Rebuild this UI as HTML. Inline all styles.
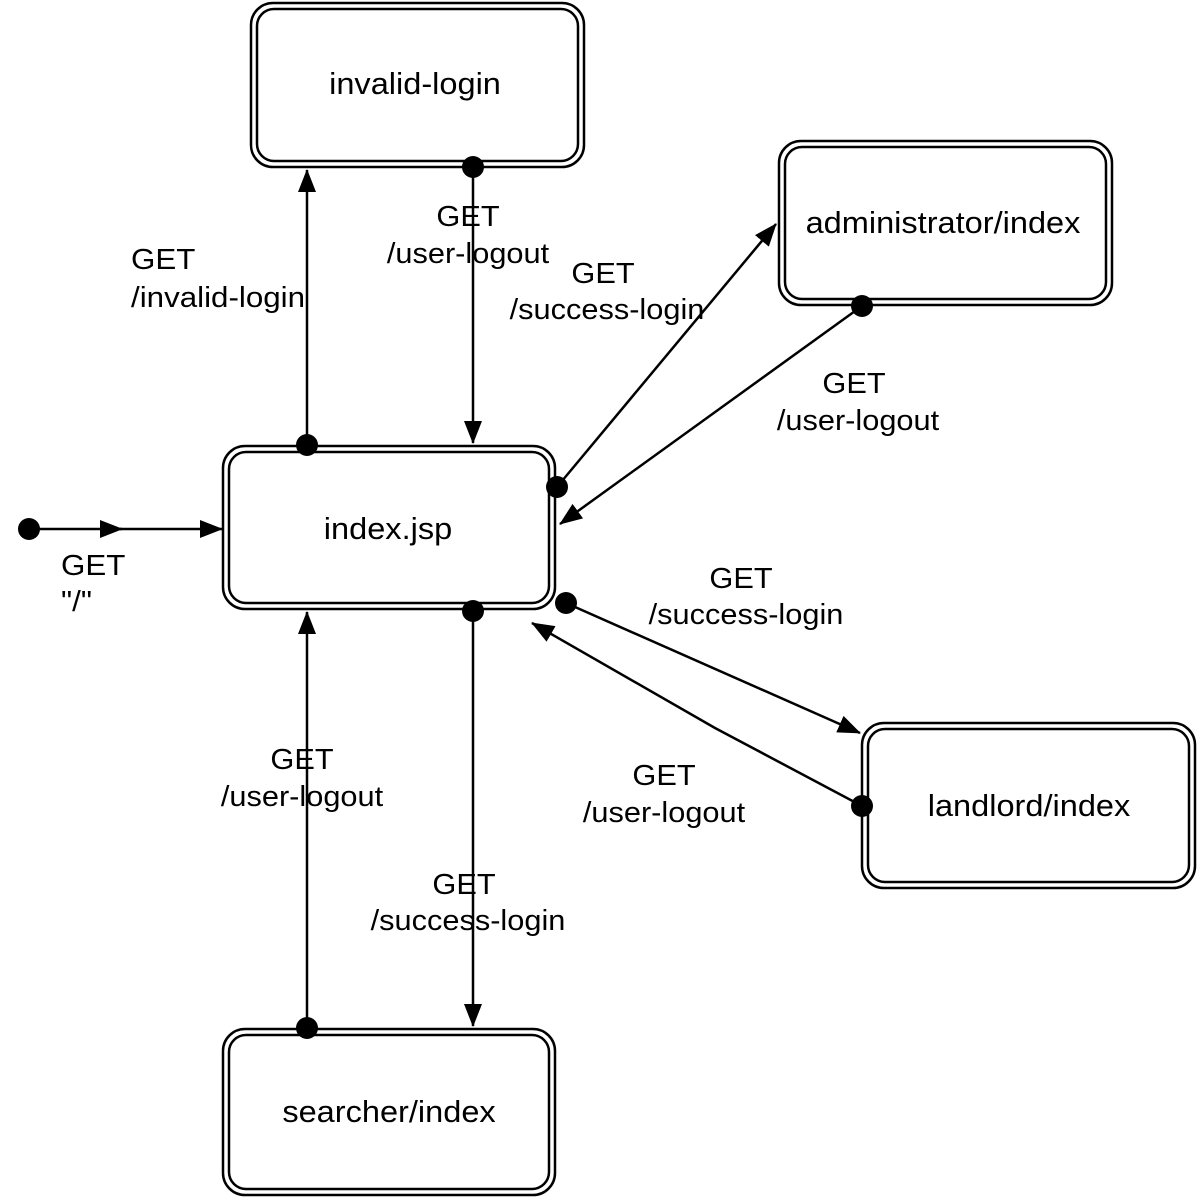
<!DOCTYPE html>
<html><head><style>body{margin:0;background:#fff}svg{display:block}</style></head><body>
<svg width="1200" height="1200" viewBox="0 0 1200 1200" xmlns="http://www.w3.org/2000/svg" font-family="Liberation Sans, sans-serif">
<defs>
<marker id="a" markerWidth="24" markerHeight="20" refX="22" refY="10" orient="auto" markerUnits="userSpaceOnUse"><path d="M0,1 L23,10 L0,19 z" fill="#000"/></marker>
</defs>
<g fill="none" stroke="#000" stroke-width="2.5">
<rect x="251" y="3" width="333" height="164" rx="22"/><rect x="257" y="9" width="321" height="152" rx="17"/>
<rect x="779" y="141" width="333" height="164" rx="22"/><rect x="785" y="147" width="321" height="152" rx="17"/>
<rect x="223" y="446" width="332" height="163" rx="22"/><rect x="229" y="452" width="320" height="151" rx="17"/>
<rect x="862" y="723" width="333" height="165" rx="22"/><rect x="868" y="729" width="321" height="153" rx="17"/>
<rect x="223" y="1029" width="332" height="166" rx="22"/><rect x="229" y="1035" width="320" height="154" rx="17"/>
</g>
<g stroke="#000" stroke-width="2.5" fill="none">
<line x1="29" y1="529" x2="122" y2="529" marker-end="url(#a)"/>
<line x1="120" y1="529" x2="222" y2="529" marker-end="url(#a)"/>
<line x1="307" y1="445" x2="307" y2="170" marker-end="url(#a)"/>
<line x1="473" y1="167" x2="473" y2="443" marker-end="url(#a)"/>
<line x1="557" y1="487" x2="776" y2="224" marker-end="url(#a)"/>
<line x1="862" y1="306" x2="560" y2="524" marker-end="url(#a)"/>
<line x1="566" y1="603" x2="860" y2="733" marker-end="url(#a)"/>
<polyline points="862,806 715,728 532,623" marker-end="url(#a)"/>
<line x1="473" y1="611" x2="473" y2="1026" marker-end="url(#a)"/>
<line x1="307" y1="1028" x2="307" y2="612" marker-end="url(#a)"/>
</g>
<g fill="#000">
<circle cx="29" cy="529" r="11"/><circle cx="307" cy="445" r="11"/><circle cx="473" cy="167" r="11"/>
<circle cx="557" cy="487" r="11"/><circle cx="862" cy="306" r="11"/><circle cx="566" cy="603" r="11"/>
<circle cx="862" cy="806" r="11"/><circle cx="473" cy="611" r="11"/><circle cx="307" cy="1028" r="11"/>
</g>
<g fill="#000" text-anchor="middle" font-size="31">
<text transform="translate(415,94) scale(1.05,1)">invalid-login</text>
<text transform="translate(943,233) scale(1.05,1)">administrator/index</text>
<text transform="translate(388,539) scale(1.05,1)">index.jsp</text>
<text transform="translate(1029,816) scale(1.05,1)">landlord/index</text>
<text transform="translate(389,1122) scale(1.05,1)">searcher/index</text>
</g>
<g fill="#000" font-size="29">
<text transform="translate(61,575) scale(1.08,1)">GET</text><text transform="translate(61,611) scale(1.08,1)">"/"</text>
<text transform="translate(131,269) scale(1.08,1)">GET</text><text transform="translate(131,307) scale(1.08,1)">/invalid-login</text>
</g>
<g fill="#000" font-size="29" text-anchor="middle">
<text transform="translate(468,226) scale(1.06,1)">GET</text><text transform="translate(468,263) scale(1.06,1)">/user-logout</text>
<text transform="translate(603,283) scale(1.06,1)">GET</text><text transform="translate(607,319) scale(1.06,1)">/success-login</text>
<text transform="translate(854,393) scale(1.06,1)">GET</text><text transform="translate(858,430) scale(1.06,1)">/user-logout</text>
<text transform="translate(741,588) scale(1.06,1)">GET</text><text transform="translate(746,624) scale(1.06,1)">/success-login</text>
<text transform="translate(664,785) scale(1.06,1)">GET</text><text transform="translate(664,822) scale(1.06,1)">/user-logout</text>
<text transform="translate(302,769) scale(1.06,1)">GET</text><text transform="translate(302,806) scale(1.06,1)">/user-logout</text>
<text transform="translate(464,894) scale(1.06,1)">GET</text><text transform="translate(468,930) scale(1.06,1)">/success-login</text>
</g>
</svg>
</body></html>
